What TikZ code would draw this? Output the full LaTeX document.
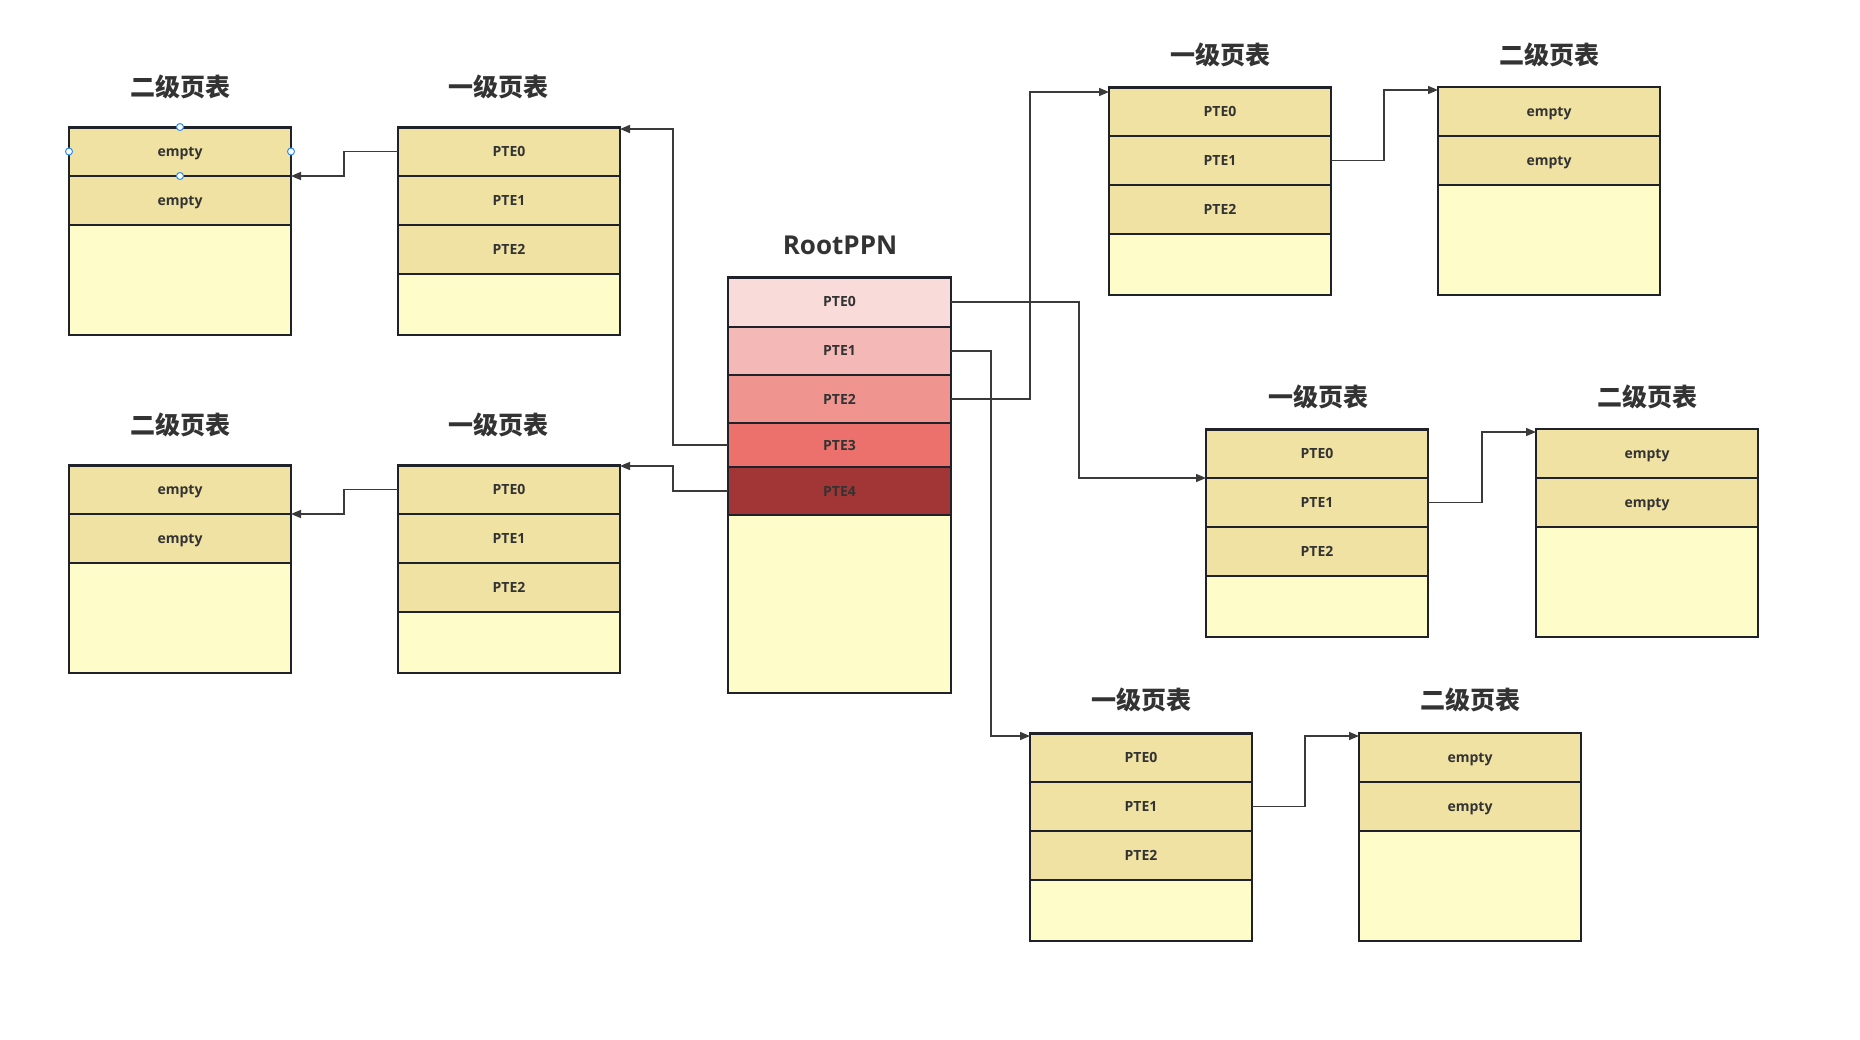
\documentclass[tikz,border=0pt]{standalone}
\usepackage{fontspec}
\setmainfont{Open Sans}
\newfontfamily\cjk{Noto Sans CJK SC}
\usetikzlibrary{arrows.meta,calc}
\definecolor{bordercol}{HTML}{1F2329}
\definecolor{txtcol}{HTML}{333333}
\definecolor{rowfill}{HTML}{F0E2A2}
\definecolor{restfill}{HTML}{FEFCC9}
\definecolor{rootA}{HTML}{F9DCDA}
\definecolor{rootB}{HTML}{F4B8B6}
\definecolor{rootC}{HTML}{F0948F}
\definecolor{rootD}{HTML}{EC716D}
\definecolor{rootE}{HTML}{A23535}
\definecolor{conncol}{HTML}{3A3A3A}
\definecolor{handlecol}{HTML}{2B8CF7}
\tikzset{
  cell/.style={draw=bordercol, line width=2pt, minimum width=222pt, inner sep=0pt, outer sep=0pt,
    text=txtcol, font=\fontsize{14}{16}\selectfont\bfseries, text height=10pt, text depth=0pt},
  pterow/.style={cell, fill=rowfill, minimum height=49pt},
  restbox/.style={cell, fill=restfill},
  ttl/.style={text=txtcol, font=\cjk\fontsize{25}{29}\selectfont\bfseries, inner sep=0pt},
  conn/.style={draw=conncol, line width=1.5pt, -{Triangle[length=10pt,width=8pt]}},
  handle/.style={circle, draw=handlecol, fill=white, line width=1pt, minimum size=7pt, inner sep=0pt},
  topline/.style={draw=bordercol, line width=3pt}
}
\begin{document}
\begin{tikzpicture}[x=1pt,y=-1pt]
\useasboundingbox (0,0) rectangle (1860,1039);
\fill[white] (0,0) rectangle (1860,1039);

% ---------- RootPPN ----------
\node[text=txtcol, font=\fontsize{26}{30}\selectfont\bfseries, inner sep=0pt] (rootT) at (840,245) {RootPPN};
\node[cell, fill=rootA, minimum width=223pt, minimum height=49.5pt, anchor=north west] (root0) at (728,277) {PTE0};
\node[cell, fill=rootB, minimum width=223pt, minimum height=48.5pt, anchor=north] (root1) at (root0.south) {PTE1};
\node[cell, fill=rootC, minimum width=223pt, minimum height=48pt, anchor=north] (root2) at (root1.south) {PTE2};
\node[cell, fill=rootD, minimum width=223pt, minimum height=44pt, anchor=north] (root3) at (root2.south) {PTE3};
\node[cell, fill=rootE, minimum width=223pt, minimum height=48pt, anchor=north] (root4) at (root3.south) {PTE4};
\node[restbox, minimum width=223pt, minimum height=178pt, anchor=north] (root5) at (root4.south) {};
\draw[topline] (root0.north west) -- (root0.north east);

% ---------- top-left ----------
\node[ttl] (tlBt) at (180,87) {二级页表};
\node[pterow, anchor=north west] (tlB0) at (69,127) {empty};
\node[pterow, anchor=north] (tlB1) at (tlB0.south) {empty};
\node[restbox, minimum height=110pt, anchor=north] (tlB2) at (tlB1.south) {};
\draw[topline] (tlB0.north west) -- (tlB0.north east);

\node[ttl] (tlAt) at (498,87) {一级页表};
\node[pterow, anchor=north west] (tlA0) at (398,127) {PTE0};
\node[pterow, anchor=north] (tlA1) at (tlA0.south) {PTE1};
\node[pterow, anchor=north] (tlA2) at (tlA1.south) {PTE2};
\node[restbox, minimum height=61pt, anchor=north] (tlA3) at (tlA2.south) {};
\draw[topline] (tlA0.north west) -- (tlA0.north east);

% ---------- lower-left ----------
\node[ttl] (llBt) at (180,425) {二级页表};
\node[pterow, anchor=north west] (llB0) at (69,465) {empty};
\node[pterow, anchor=north] (llB1) at (llB0.south) {empty};
\node[restbox, minimum height=110pt, anchor=north] (llB2) at (llB1.south) {};
\draw[topline] (llB0.north west) -- (llB0.north east);

\node[ttl] (llAt) at (498,425) {一级页表};
\node[pterow, anchor=north west] (llA0) at (398,465) {PTE0};
\node[pterow, anchor=north] (llA1) at (llA0.south) {PTE1};
\node[pterow, anchor=north] (llA2) at (llA1.south) {PTE2};
\node[restbox, minimum height=61pt, anchor=north] (llA3) at (llA2.south) {};
\draw[topline] (llA0.north west) -- (llA0.north east);

% ---------- top-right ----------
\node[ttl] (trAt) at (1220,55) {一级页表};
\node[pterow, anchor=north west] (trA0) at (1109,87) {PTE0};
\node[pterow, anchor=north] (trA1) at (trA0.south) {PTE1};
\node[pterow, anchor=north] (trA2) at (trA1.south) {PTE2};
\node[restbox, minimum height=61pt, anchor=north] (trA3) at (trA2.south) {};
\draw[topline] (trA0.north west) -- (trA0.north east);

\node[ttl] (trBt) at (1549,55) {二级页表};
\node[pterow, anchor=north west] (trB0) at (1438,87) {empty};
\node[pterow, anchor=north] (trB1) at (trB0.south) {empty};
\node[restbox, minimum height=110pt, anchor=north] (trB2) at (trB1.south) {};

% ---------- middle-right ----------
\node[ttl] (mrAt) at (1318,397) {一级页表};
\node[pterow, anchor=north west] (mrA0) at (1206,429) {PTE0};
\node[pterow, anchor=north] (mrA1) at (mrA0.south) {PTE1};
\node[pterow, anchor=north] (mrA2) at (mrA1.south) {PTE2};
\node[restbox, minimum height=61pt, anchor=north] (mrA3) at (mrA2.south) {};
\draw[topline] (mrA0.north west) -- (mrA0.north east);

\node[ttl] (mrBt) at (1647,397) {二级页表};
\node[pterow, anchor=north west] (mrB0) at (1536,429) {empty};
\node[pterow, anchor=north] (mrB1) at (mrB0.south) {empty};
\node[restbox, minimum height=110pt, anchor=north] (mrB2) at (mrB1.south) {};

% ---------- bottom ----------
\node[ttl] (bAt) at (1141,700) {一级页表};
\node[pterow, anchor=north west] (bA0) at (1030,733) {PTE0};
\node[pterow, anchor=north] (bA1) at (bA0.south) {PTE1};
\node[pterow, anchor=north] (bA2) at (bA1.south) {PTE2};
\node[restbox, minimum height=61pt, anchor=north] (bA3) at (bA2.south) {};
\draw[topline] (bA0.north west) -- (bA0.north east);

\node[ttl] (bBt) at (1470,700) {二级页表};
\node[pterow, anchor=north west] (bB0) at (1359,733) {empty};
\node[pterow, anchor=north] (bB1) at (bB0.south) {empty};
\node[restbox, minimum height=110pt, anchor=north] (bB2) at (bB1.south) {};

% ---------- connectors ----------
\draw[conn] (root3.west) -- ++(-55,0) |- ([yshift=-2pt]tlA0.north east);
\draw[conn] (root4.west) -- ++(-55,0) |- ([yshift=-1pt]llA0.north east);
\draw[conn] (tlA0.west) -- ++(-54,0) |- (tlB0.south east);
\draw[conn] (llA0.west) -- ++(-54,0) |- (llB0.south east);
\draw[conn] (root2.east) -- ++(79,0) |- ([yshift=-5pt]trA0.north west);
\draw[conn] (trA1.east) -- ++(53,0) |- ([yshift=-3pt]trB0.north west);
\draw[conn] (root0.east) -- ++(128,0) |- (mrA0.south west);
\draw[conn] (mrA1.east) -- ++(54,0) |- ([yshift=-3pt]mrB0.north west);
\draw[conn] (root1.east) -- ++(40,0) |- ([yshift=-3pt]bA0.north west);
\draw[conn] (bA1.east) -- ++(53,0) |- ([yshift=-3pt]bB0.north west);

% ---------- selection handles ----------
\node[handle] (h1) at (tlB0.north) {};
\node[handle] (h2) at (tlB0.west) {};
\node[handle] (h3) at (tlB0.east) {};
\node[handle] (h4) at (tlB0.south) {};
\end{tikzpicture}
\end{document}
